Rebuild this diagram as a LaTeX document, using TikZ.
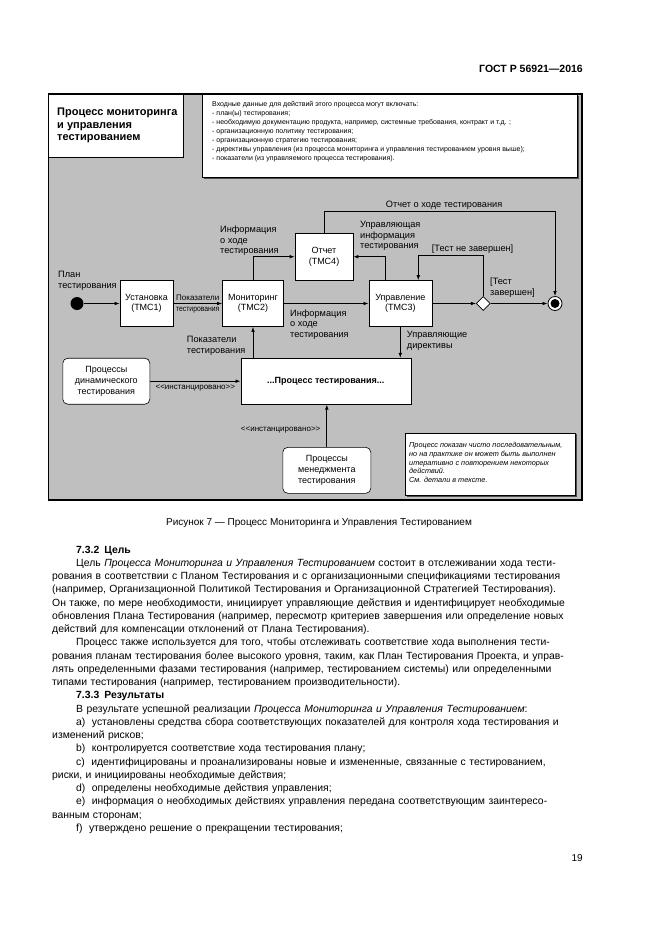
\documentclass[tikz,border=0pt]{standalone}
\usepackage{fontspec}
\usepackage{graphicx}
\setmainfont{Liberation Sans}
\usetikzlibrary{arrows.meta,shapes.geometric,positioning}
\tikzset{box/.style={draw, line width=0.6pt, fill=white, inner sep=0pt, align=center, font=\fontsize{9}{10.5}\selectfont},
  rbox/.style={box, rounded corners=5pt},
  lbl/.style={inner sep=0pt, align=left, font=\fontsize{9.2}{10.5}\selectfont},
  lblsm/.style={inner sep=0pt, font=\fontsize{8}{9}\selectfont},
  arr/.style={line width=0.8pt, -{Latex[length=5pt,width=3.6pt]}}}
\newlength\bodyw
\setlength\bodyw{531pt}
\newcommand{\fline}[1]{\makebox[\bodyw][s]{#1}}
\newcommand{\pline}[1]{\makebox[\bodyw][l]{#1}}
\newcommand{\ind}{\hspace*{24pt}}
\newcommand{\inst}{\textless\kern0pt\textless\kern0pt инстанцировано\kern0pt\textgreater\kern0pt\textgreater}

\begin{document}
\begin{tikzpicture}[x=1pt,y=-1pt]
  \useasboundingbox (0,0) rectangle (661,935);
  \node[anchor=base east, inner sep=0, font=\fontsize{10.5}{12}\selectfont\bfseries] (gost) at (583,72) {ГОСТ Р 56921—2016};

  % frame
  \draw[line width=1.1pt, fill=black!25] (48.5,94) rectangle (582,500);
  \draw[line width=0.8pt, fill=white] (48.5,94) rectangle (183,157);
  \node[anchor=west, inner sep=0, align=left, font=\fontsize{11}{12.3}\selectfont\bfseries] (ttl) at (57,125.5) {Процесс мониторинга\\и управления\\тестированием};
  \fill[black!70] (203.5,95.5) rectangle (578.5,178.5);
  \draw[line width=0.6pt, fill=white] (202,94) rectangle (577,177);
  \node[anchor=north west, inner sep=0, align=left, font=\fontsize{7}{8.9}\selectfont] (inp) at (212,101.5) {Входные данные для действий этого процесса могут включать:\\
    - план(ы) тестирования;\\
    - необходимую документацию продукта, например, системные требования, контракт и т.д. ;\\
    - организационную политику тестирования;\\
    - организационную стратегию тестирования;\\
    - директивы управления (из процесса мониторинга и управления тестированием уровня выше);\\
    - показатели (из управляемого процесса тестирования).};

  % main row
  \node[circle, fill=black, minimum size=13pt, inner sep=0] (start) at (77,303.5) {};
  \node[box, minimum width=53pt, minimum height=46pt] (ust) at (146.5,303.5) {Установка\\(ТМС1)};
  \node[box, minimum width=61pt, minimum height=46pt] (mon) at (253,303.5) {Мониторинг\\(ТМС2)};
  \node[box, minimum width=58pt, minimum height=47pt] (rep) at (324,256.7) {Отчет\\(ТМС4)};
  \node[box, minimum width=63pt, minimum height=46pt] (upr) at (400.3,303.5) {Управление\\(ТМС3)};
  \node[diamond, draw, line width=0.7pt, fill=white, minimum size=14pt, inner sep=0] (dec) at (483.3,303.5) {};
  \node[circle, draw, line width=0.8pt, fill=white, minimum size=14pt, inner sep=0] (fin) at (555,303.5) {};
  \node[circle, fill=black, minimum size=9pt, inner sep=0] (findot) at (fin) {};

  \node[box, minimum width=170pt, minimum height=46pt, font=\fontsize{9}{10.5}\selectfont\bfseries] (prc) at (325.8,381.2) {...Процесс тестирования...};
  \node[rbox, minimum width=87pt, minimum height=46pt, font=\fontsize{9}{10.8}\selectfont] (dyn) at (106.3,381.2) {Процессы\\динамического\\тестирования};
  \node[rbox, minimum width=88pt, minimum height=46pt, font=\fontsize{9}{10.8}\selectfont] (mgm) at (326.8,470.3) {Процессы\\менеджмента\\тестирования};

  \coordinate (rt) at (555,211.7);
  \coordinate (lp) at (418.3,255);
  \draw[arr] (start) -- (ust);
  \draw[arr] (ust) -- node[above=2.5pt, lblsm] {Показатели} node[below=3pt, lblsm] {\scalebox{0.85}[1]{тестирования}} (mon);
  \draw[arr] (mon.north) |- (rep.west);
  \draw[arr] (mon) -- (upr);
  \draw[arr] ([xshift=-15.3pt]upr.north) |- (rep.east);
  \draw[arr] (upr) -- (dec);
  \draw[arr] (dec) -- (fin);
  \draw[arr] (rep.north) |- node[above=2pt, pos=0.76, lbl] {Отчет о ходе тестирования} (rt) -- (fin.north);
  \draw[arr] (dec.north) |- (lp) -- (lp |- upr.north);
  \draw[arr] (upr.south) -- (upr.south |- prc.north);
  \draw[arr] (mon.south |- prc.north) -- (mon.south);
  \draw[arr] (dyn) -- node[below=3pt, lblsm] {\inst} (prc);
  \draw[arr] (mgm) -- node[left=6pt, pos=0.4, lblsm] {\inst} (mgm |- prc.south);

  \node[lbl, anchor=north west] (plan) at (58,271) {План\\тестирования};
  \node[lbl, anchor=north west] (inf1) at (220,226) {Информация\\о ходе\\тестирования};
  \node[lbl, anchor=north west] (inf2) at (290,309.5) {Информация\\о ходе\\тестирования};
  \node[lbl, anchor=north west] (uinf) at (360,221) {Управляющая\\информация\\тестирования};
  \node[lbl, anchor=north west] (nz) at (431.7,244.3) {[Тест не завершен]};
  \node[lbl, anchor=north west] (zv) at (490,277.7) {[Тест\\завершен]};
  \node[lbl, anchor=north west] (udir) at (406.7,331) {Управляющие\\директивы};
  \node[lbl, anchor=north west] (pok) at (186.7,336) {Показатели\\тестирования};

  % note
  \fill[black!70] (406.7,434.3) rectangle (576.7,496.7);
  \draw[line width=0.6pt, fill=white] (405.7,433.3) rectangle (575.7,495.7);
  \node[anchor=north west, inner sep=0, align=left, font=\fontsize{7.3}{8.8}\selectfont\itshape] (note) at (409,442) {Процесс показан чисто последовательным,\\но на практике он может быть выполнен\\итеративно с повторением некоторых\\действий.\\См. детали в тексте.};

  % text of the page
  \node[anchor=base, inner sep=0, font=\fontsize{10}{11.5}\selectfont] (cap) at (319,525) {Рисунок 7 — Процесс Мониторинга и Управления Тестированием};
  \node[anchor=north west, inner sep=0, align=left, text width=\bodyw, font=\fontsize{10.4}{13.25}\selectfont] (body) at (52,543.7) {\strut\ind\textbf{7.3.2\hspace{5pt}Цель}\\
    \fline{\ind Цель \textit{Процесса Мониторинга и Управления Тестированием} состоит в отслеживании хода тести-}\\
    \fline{рования в соответствии с Планом Тестирования и с организационными спецификациями тестирования}\\
    \fline{(например, Организационной Политикой Тестирования и Организационной Стратегией Тестирования).}\\
    \fline{Он также, по мере необходимости, инициирует управляющие действия и идентифицирует необходимые}\\
    \fline{обновления Плана Тестирования (например, пересмотр критериев завершения или определение новых}\\
    \pline{действий для компенсации отклонений от Плана Тестирования).}\\
    \fline{\ind Процесс также используется для того, чтобы отслеживать соответствие хода выполнения тести-}\\
    \fline{рования планам тестирования более высокого уровня, таким, как План Тестирования Проекта, и управ-}\\
    \fline{лять определенными фазами тестирования (например, тестированием системы) или определенными}\\
    \pline{типами тестирования (например, тестированием производительности).}\\
    \pline{\ind\textbf{7.3.3\hspace{5pt}Результаты}}\\
    \pline{\ind В результате успешной реализации \textit{Процесса Мониторинга и Управления Тестированием}:}\\
    \fline{\ind a)\hspace{3pt} установлены средства сбора соответствующих показателей для контроля хода тестирования и}\\
    \pline{изменений рисков;}\\
    \pline{\ind b)\hspace{3pt} контролируется соответствие хода тестирования плану;}\\
    \fline{\ind c)\hspace{3pt} идентифицированы и проанализированы новые и измененные, связанные с тестированием,}\\
    \pline{риски, и инициированы необходимые действия;}\\
    \pline{\ind d)\hspace{3pt} определены необходимые действия управления;}\\
    \fline{\ind e)\hspace{3pt} информация о необходимых действиях управления передана соответствующим заинтересо-}\\
    \pline{ванным сторонам;}\\
    \pline{\ind f)\hspace{3pt} утверждено решение о прекращении тестирования;}};
  \node[anchor=base east, inner sep=0, font=\fontsize{10}{12}\selectfont] (pnum) at (583,861) {19};
\end{tikzpicture}
\end{document}
